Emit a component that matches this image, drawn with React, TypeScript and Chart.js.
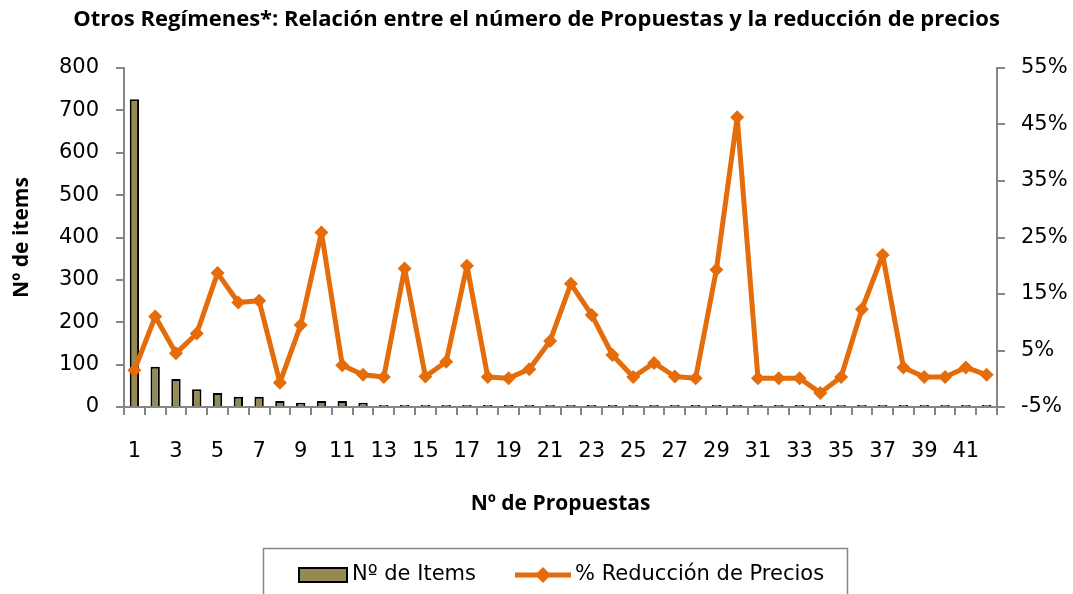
import React, { useEffect, useRef } from "react";
import { Chart, registerables } from "chart.js";

Chart.register(...registerables);

const chartTitle = "Otros Regímenes*: Relación entre el número de Propuestas y la reducción de precios";
const xAxisTitle = "Nº de Propuestas";
const yLeftTitle = "Nº de items";
const barLabel = "Nº de Items";
const lineLabel = "% Reducción de Precios";

const categories = [
  "1", "2", "3", "4", "5", "6", "7", "8", "9", "10",
  "11", "12", "13", "14", "15", "16", "17", "18", "19", "20",
  "21", "22", "23", "24", "25", "26", "27", "28", "29", "30",
  "31", "32", "33", "34", "35", "36", "37", "38", "39", "40",
  "41", "42",
];

const itemCounts = [
  726, 95, 66, 42, 33, 24, 24, 14, 10, 14,
  14, 10, 5, 5, 5, 5, 5, 5, 5, 5,
  5, 5, 5, 5, 5, 5, 5, 5, 5, 5,
  5, 5, 5, 5, 5, 5, 5, 5, 5, 5,
  5, 5,
];

const priceReduction = [
  1.5, 11.0, 4.5, 8.0, 18.7, 13.5, 13.8, -0.7, 9.5, 25.9,
  2.4, 0.7, 0.3, 19.5, 0.4, 3.0, 20.0, 0.3, 0.1, 1.7,
  6.7, 16.8, 11.3, 4.2, 0.3, 2.8, 0.4, 0.1, 19.3, 46.3,
  0.1, 0.1, 0.1, -2.5, 0.3, 12.3, 21.9, 2.0, 0.3, 0.3,
  2.0, 0.7,
];

const leftTicks = { min: 0, max: 800, step: 100 };
const rightTicks = { min: -5, max: 55, step: 10 };

const BAR_COLOR = "#948A54";
const LINE_COLOR = "#E46C0A";
const AXIS_COLOR = "#868686";
const TICK_FONT = "'DejaVu Sans', sans-serif";
const TITLE_FONT = "'Open Sans', sans-serif";

const legendPlugin = {
  id: "boxLegend",
  afterDraw(chart: any) {
    const ctx = chart.ctx;
    const ds = chart.data.datasets;
    ctx.save();
    ctx.strokeStyle = AXIS_COLOR;
    ctx.lineWidth = 1.5;
    ctx.strokeRect(263.5, 548.5, 584, 60);
    const cy = 575;
    ctx.fillStyle = BAR_COLOR;
    ctx.fillRect(299, 568, 48, 14);
    ctx.strokeStyle = "#000";
    ctx.lineWidth = 2;
    ctx.strokeRect(299, 568, 48, 14);
    ctx.fillStyle = "#000";
    ctx.font = `21px ${TICK_FONT}`;
    ctx.textBaseline = "middle";
    ctx.textAlign = "left";
    ctx.fillText(ds[1].label, 352, cy);
    ctx.strokeStyle = LINE_COLOR;
    ctx.lineWidth = 5;
    ctx.beginPath();
    ctx.moveTo(515, cy);
    ctx.lineTo(571, cy);
    ctx.stroke();
    ctx.fillStyle = LINE_COLOR;
    ctx.beginPath();
    ctx.moveTo(543, cy - 8);
    ctx.lineTo(551, cy);
    ctx.lineTo(543, cy + 8);
    ctx.lineTo(535, cy);
    ctx.closePath();
    ctx.fill();
    ctx.fillStyle = "#000";
    ctx.fillText(ds[0].label, 575, cy);
    ctx.restore();
  },
};

export default function App() {
  const ref = useRef<HTMLCanvasElement | null>(null);

  useEffect(() => {
    if (!ref.current) return;
    Chart.defaults.color = "#000";
    const chart = new Chart(ref.current, {
      type: "bar",
      data: {
        labels: categories,
        datasets: [
          {
            type: "line",
            label: lineLabel,
            data: priceReduction,
            yAxisID: "y1",
            borderColor: LINE_COLOR,
            backgroundColor: LINE_COLOR,
            borderWidth: 5,
            borderJoinStyle: "round",
            borderCapStyle: "round",
            pointStyle: "rectRot",
            pointRadius: 7,
            pointBorderWidth: 0,
            pointBackgroundColor: LINE_COLOR,
            tension: 0,
            order: 0,
          } as any,
          {
            type: "bar",
            label: barLabel,
            data: itemCounts,
            yAxisID: "y",
            backgroundColor: BAR_COLOR,
            borderColor: "#000",
            borderWidth: 2,
            barPercentage: 0.45,
            categoryPercentage: 1,
            order: 1,
          },
        ],
      },
      plugins: [legendPlugin],
      options: {
        animation: false,
        responsive: true,
        maintainAspectRatio: false,
        layout: { padding: { top: 0, left: 0, right: 0, bottom: 77 } },
        plugins: {
          legend: { display: false },
          tooltip: { enabled: false },
          title: {
            display: true,
            text: chartTitle,
            color: "#000",
            font: { family: TITLE_FONT, size: 22, weight: "bold", lineHeight: 1.2 },
            padding: { top: 7, bottom: 34.6 },
          },
        },
        scales: {
          x: {
            offset: true,
            grid: {
              display: true,
              offset: true,
              drawOnChartArea: false,
              drawTicks: true,
              tickLength: 8,
              color: AXIS_COLOR,
              lineWidth: 2,
            },
            border: { display: true, color: AXIS_COLOR, width: 2 },
            ticks: {
              autoSkip: false,
              maxRotation: 0,
              padding: 24,
              font: { family: TICK_FONT, size: 21 },
              callback: (_v: any, i: number) => (i % 2 === 0 ? categories[i] : ""),
            },
            title: {
              display: true,
              text: xAxisTitle,
              font: { family: TITLE_FONT, size: 21, weight: "bold", lineHeight: 1.2 },
              padding: { top: 0, bottom: 0 },
            },
            afterFit: (s: any) => {
              s.height = 110;
            },
          },
          y: {
            position: "left",
            min: leftTicks.min,
            max: leftTicks.max,
            grid: {
              display: true,
              drawOnChartArea: false,
              drawTicks: true,
              tickLength: 8,
              color: AXIS_COLOR,
              lineWidth: 2,
            },
            border: { display: true, color: AXIS_COLOR, width: 2 },
            ticks: {
              stepSize: leftTicks.step,
              padding: 17,
              font: { family: TICK_FONT, size: 21 },
            },
            title: {
              display: true,
              text: yLeftTitle,
              font: { family: TITLE_FONT, size: 21, weight: "bold", lineHeight: 1.2 },
              padding: { top: 9, bottom: 0 },
            },
            afterFit: (s: any) => {
              s.width = 124;
            },
          },
          y1: {
            position: "right",
            min: rightTicks.min,
            max: rightTicks.max,
            grid: {
              display: true,
              drawOnChartArea: false,
              drawTicks: true,
              tickLength: 8,
              color: AXIS_COLOR,
              lineWidth: 2,
            },
            border: { display: true, color: AXIS_COLOR, width: 2 },
            ticks: {
              stepSize: rightTicks.step,
              padding: 16,
              font: { family: TICK_FONT, size: 21 },
              callback: (v: any) => `${v}%`,
            },
            afterFit: (s: any) => {
              s.width = 76;
            },
          },
        },
      } as any,
    });
    return () => chart.destroy();
  }, []);

  return (
    <div style={{ position: "fixed", left: 0, top: 0, width: 1073, height: 594, background: "#fff" }}>
      <canvas ref={ref} />
    </div>
  );
}
